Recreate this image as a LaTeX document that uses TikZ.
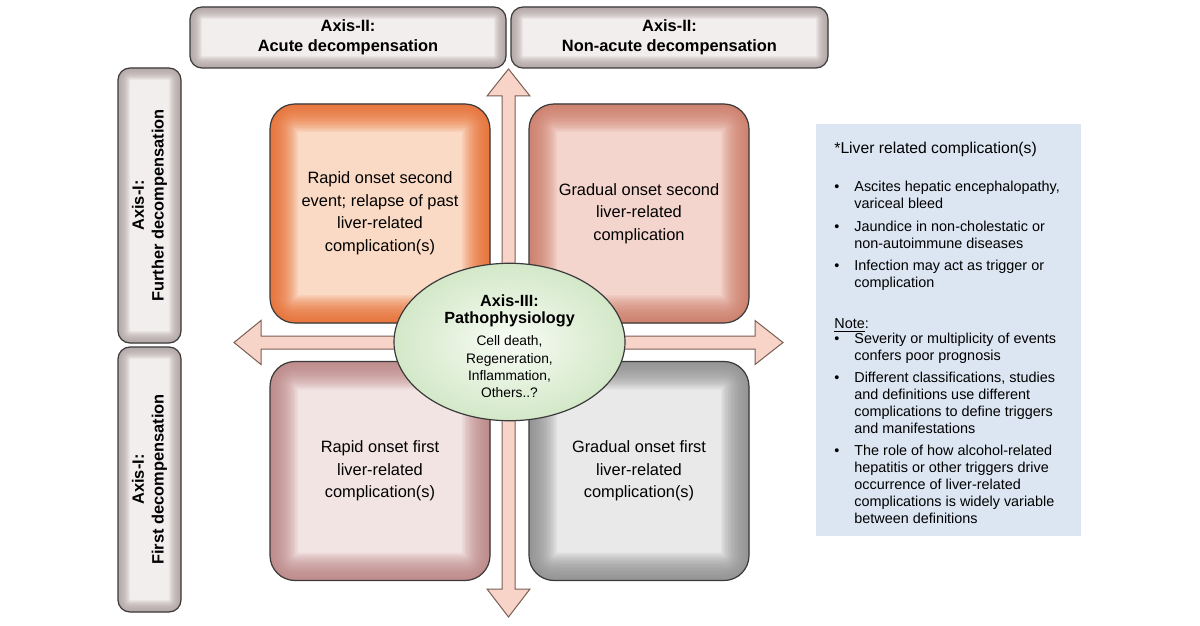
\documentclass[tikz,border=0pt]{standalone}
\usepackage{fontspec}
\setmainfont{Liberation Sans}
\usetikzlibrary{shapes.geometric,calc}
\definecolor{tlc}{HTML}{FBDAC5}
\definecolor{tle}{HTML}{E8682A}
\definecolor{trc}{HTML}{F4D5CD}
\definecolor{tre}{HTML}{CC7864}
\definecolor{blc}{HTML}{F3E4E4}
\definecolor{ble}{HTML}{B98080}
\definecolor{brc}{HTML}{E9E9E9}
\definecolor{bre}{HTML}{8A8A8A}
\definecolor{axc}{HTML}{F2EEED}
\definecolor{axe}{HTML}{AFA2A1}
\definecolor{arrf}{HTML}{F8D4C8}
\definecolor{arrd}{HTML}{7A5E56}
\definecolor{elli}{HTML}{F8FCF5}
\definecolor{ello}{HTML}{D3E8C8}
\definecolor{panelc}{HTML}{DCE6F2}
\definecolor{edgec}{HTML}{3A3A3A}
\newcommand{\ellbold}[1]{{\bfseries\fontsize{8.1}{9}\selectfont #1}}
\tikzset{
  glow/.style n args={3}{path picture={
    \foreach \i in {1,...,20}{
      \draw[#1, opacity=0.085, line width=\i*#3, rounded corners=#2]
        (path picture bounding box.south west) rectangle (path picture bounding box.north east);}}},
  qbox/.style n args={2}{draw=edgec, line width=0.6pt, rounded corners=12.5pt, fill=#1,
    glow={#2}{12.5pt}{1.4pt}, minimum width=110pt, minimum height=109.5pt,
    align=center, inner sep=0pt, font=\fontsize{8.2}{11.25}\selectfont},
  axbox/.style={draw=edgec, line width=0.6pt, rounded corners=6pt, fill=axc,
    glow={axe}{6pt}{0.6pt}, align=center, inner sep=0pt,
    font=\bfseries\fontsize{8.2}{9.9}\selectfont},
  bigarrow/.style={draw=arrd, line width=0.5pt, fill=arrf, line join=miter},
  centreell/.style={ellipse, draw=edgec, line width=0.6pt, inner color=elli, outer color=ello,
    minimum width=115.5pt, minimum height=65pt, inner sep=0pt, align=center,
    font=\fontsize{6.9}{8.6}\selectfont},
  panel/.style={fill=panelc, minimum width=132.5pt, minimum height=206pt, inner sep=0pt}
}
\begin{document}
\begin{tikzpicture}[x=0.5pt,y=-0.5pt]
\useasboundingbox (0,0) rectangle (1200,626);
\fill[white] (0,0) rectangle (1200,626);

% axis labels
\node[axbox, minimum width=158pt, minimum height=30.5pt] (acute) at (348,37.5) {Axis-II:\\Acute decompensation};
\node[axbox, minimum width=158.5pt, minimum height=30.5pt] (nonacute) at (669.5,37.5) {Axis-II:\\Non-acute decompensation};
\node[axbox, rotate=90, minimum width=137.5pt, minimum height=31.5pt] (further) at (149.5,205.5) {Axis-I:\\Further decompensation};
\node[axbox, rotate=90, minimum width=132.5pt, minimum height=31.5pt] (first) at (149.5,479.5) {Axis-I:\\First decompensation};

% quadrant boxes
\node[qbox={tlc}{tle}] (tl) at (380,213.5) {Rapid onset second\\event; relapse of past\\liver-related\\complication(s)};
\node[qbox={trc}{tre}] (tr) at (639,213.5) {Gradual onset second\\liver-related\\complication};
\node[qbox={blc}{ble}] (bl) at (380,471) {Rapid onset first\\liver-related\\complication(s)};
\node[qbox={brc}{bre}] (br) at (639,471) {Gradual onset first\\liver-related\\complication(s)};

% arrows
\coordinate (vtop) at (508.5,69);
\coordinate (vbot) at (508.5,617);
\coordinate (hleft) at (234,342.5);
\coordinate (hright) at (783,342.5);
\draw[bigarrow] (vtop) -- ++(21.5,27) -- ++(-15,0) -- ($(vbot)+(6.5,-28)$) -- ++(15,0) -- (vbot)
  -- ++(-21.5,-28) -- ++(15,0) -- ($(vtop)+(-6.5,27)$) -- ++(-15,0) -- cycle;
\draw[bigarrow] (hleft) -- ++(27,-22) -- ++(0,15.5) -- ($(hright)+(-28,-6.5)$) -- ++(0,-15.5) -- (hright)
  -- ++(-28,22) -- ++(0,-15.5) -- ($(hleft)+(27,6.5)$) -- ++(0,15.5) -- cycle;

% centre ellipse
\node[centreell] (patho) at (509.5,342) {\rule{0pt}{10pt}\ellbold{Axis-III:}\\\ellbold{Pathophysiology}\\[2.6pt]
  Cell death,\\Regeneration,\\Inflammation,\\Others..?};

% notes panel
\node[panel] (notes) at (948.5,330) {};
\node[anchor=north west, inner sep=0pt, font=\fontsize{7.2}{8.45}\selectfont] (notetext) at (834,141) {%
\begin{tabular}{@{}p{10pt}@{}l@{}}
\multicolumn{2}{@{}l@{}}{\fontsize{7.85}{8.45}\selectfont *Liver related complication(s)}\\[10.8pt]
• & Ascites hepatic encephalopathy,\\
  & variceal bleed\\[2.8pt]
• & Jaundice in non-cholestatic or\\
  & non-autoimmune diseases\\[2.8pt]
• & Infection may act as trigger or\\
  & complication\\[12pt]
\multicolumn{2}{@{}l@{}}{\underline{Note}:}\\[-1pt]
• & Severity or multiplicity of events\\
  & confers poor prognosis\\[2.8pt]
• & Different classifications, studies\\
  & and definitions use different\\
  & complications to define triggers\\
  & and manifestations\\[2.8pt]
• & The role of how alcohol-related\\
  & hepatitis or other triggers drive\\
  & occurrence of liver-related\\
  & complications is widely variable\\
  & between definitions
\end{tabular}};
\end{tikzpicture}
\end{document}
